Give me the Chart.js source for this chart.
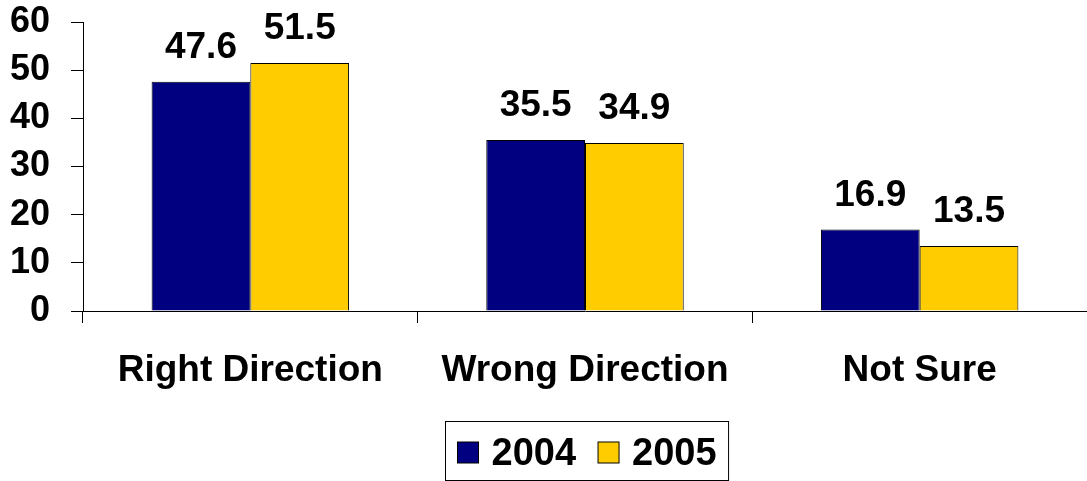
<!DOCTYPE html>
<html>
<head>
<meta charset="utf-8">
<script src="https://cdn.jsdelivr.net/npm/chart.js@4"></script>
<style>
    html, body { margin: 0; padding: 0; background: #fff; }
    #wrap { width: 1087px; height: 481px; }
</style>
</head>
<body>
<div id="wrap"><canvas id="dirChart" width="1087" height="481"></canvas></div>
<script>
/* ================= DATA ================= */

const categories = ['Right Direction', 'Wrong Direction', 'Not Sure'];
const seriesNames = ['2004', '2005'];
const values2004 = [47.6, 35.5, 16.9];
const values2005 = [51.5, 34.9, 13.5];
const yTicks = [0, 10, 20, 30, 40, 50, 60];

const FONT = '"Liberation Sans", Arial, sans-serif';

/* ================= VALUE LABELS ================= */

const valueLabels = {
    id: 'valueLabels',
    afterDatasetsDraw(chart) {
        const ctx = chart.ctx;
        ctx.save();
        ctx.font = 'bold 37px ' + FONT;
        ctx.fillStyle = '#000';
        ctx.textAlign = 'center';
        ctx.textBaseline = 'alphabetic';
        chart.data.datasets.forEach((ds, i) => {
            chart.getDatasetMeta(i).data.forEach((bar, j) => {
                ctx.fillText(ds.data[j].toFixed(1), bar.x, bar.y - 24);
            });
        });
        ctx.restore();
    }
};

/* ================= BOXED LEGEND ================= */

const boxLegend = {
    id: 'boxLegend',
    afterDraw(chart) {
        const ctx = chart.ctx;
        ctx.save();
        ctx.font = 'bold 38px ' + FONT;
        const sq = 21, gapSq = 13, gapItem = 22, padX = 12;
        const items = chart.data.datasets.map(ds => ({
            label: ds.label,
            color: ds.backgroundColor,
            w: ctx.measureText(ds.label).width
        }));
        let total = padX * 2;
        items.forEach((it, k) => {
            total += sq + gapSq + it.w + (k < items.length - 1 ? gapItem : 0);
        });
        const cx = (chart.chartArea.left + chart.chartArea.right) / 2 + 2;
        const left = Math.round(cx - total / 2) + 0.5;
        const top = 421.5;
        ctx.strokeStyle = '#000';
        ctx.lineWidth = 1;
        ctx.strokeRect(left, top, total, 59);

        let x = left + padX;
        items.forEach(it => {
            ctx.fillStyle = it.color;
            ctx.fillRect(x, 442, sq, sq);
            ctx.strokeRect(x, 442, sq, sq);
            x += sq + gapSq;
            ctx.fillStyle = '#000';
            ctx.textAlign = 'left';
            ctx.textBaseline = 'alphabetic';
            ctx.fillText(it.label, x, 465);
            x += it.w + gapItem;
        });
        ctx.restore();
    }
};

/* ================= CHART ================= */

new Chart(document.getElementById('dirChart'), {

    type: 'bar',

    data: {
        labels: categories,
        datasets: [{
            label: seriesNames[0],
            data: values2004,
            backgroundColor: '#000080',
            borderColor: '#000',
            borderWidth: 1
        }, {
            label: seriesNames[1],
            data: values2005,
            backgroundColor: '#FFCC00',
            borderColor: '#000',
            borderWidth: 1
        }]
    },

    options: {
        responsive: false,
        animation: false,
        maintainAspectRatio: false,
        categoryPercentage: 0.59,
        barPercentage: 1,
        layout: {
            padding: { top: 22, right: 0, left: 0, bottom: 0 }
        },
        plugins: {
            legend: { display: false },
            tooltip: { enabled: false }
        },
        scales: {
            x: {
                offset: true,
                grid: {
                    offset: true,
                    drawOnChartArea: false,
                    drawTicks: true,
                    tickLength: 12,
                    color: '#000'
                },
                border: { display: true, color: '#000', width: 1 },
                ticks: {
                    color: '#000',
                    padding: 26,
                    maxRotation: 0,
                    autoSkip: false,
                    font: { family: FONT, size: 37, weight: 'bold' }
                },
                afterFit(scale) {
                    scale.height = 481 - 311;
                    scale.paddingLeft = 0;
                    scale.paddingRight = 0;
                }
            },
            y: {
                min: 0,
                max: 60,
                afterBuildTicks(scale) {
                    scale.ticks = yTicks.map(v => ({ value: v }));
                },
                grid: {
                    drawOnChartArea: false,
                    drawTicks: true,
                    tickLength: 12,
                    color: '#000'
                },
                border: { display: true, color: '#000', width: 1 },
                ticks: {
                    color: '#000',
                    padding: 21,
                    autoSkip: false,
                    font: { family: FONT, size: 36, weight: 'bold' }
                },
                afterFit(scale) {
                    scale.width = 83;
                    scale.paddingTop = 0;
                    scale.paddingBottom = 0;
                }
            }
        }
    },

    plugins: [valueLabels, boxLegend]
});
</script>
</body>
</html>
